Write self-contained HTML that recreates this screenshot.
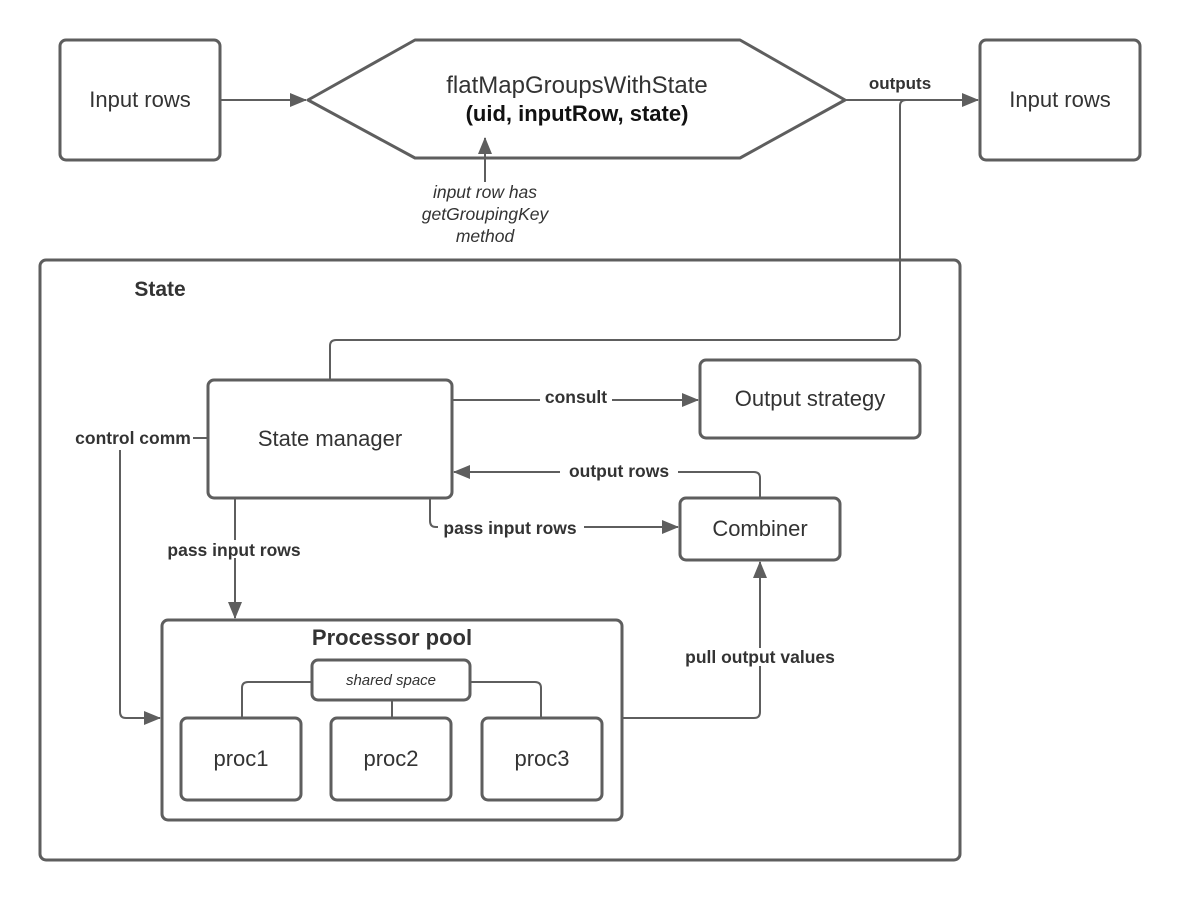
<!DOCTYPE html>
<html><head><style>body{margin:0;background:#fff}svg{display:block}</style></head><body>
<svg width="1180" height="900" viewBox="0 0 1180 900" xmlns="http://www.w3.org/2000/svg" font-family="Liberation Sans, sans-serif">
<defs>
<marker id="b" markerWidth="18" markerHeight="14" refX="16" refY="7" orient="auto" markerUnits="userSpaceOnUse"><path d="M0,0 L17,7 L0,14 z" fill="#5e5e5e"/></marker></defs>
<g fill="none" stroke="#5e5e5e" stroke-width="3" stroke-linejoin="round">
<rect x="60" y="40" width="160" height="120" rx="6"/>
<rect x="980" y="40" width="160" height="120" rx="6"/>
<path d="M308,100 L415,40 L740,40 L845,100 L740,158 L415,158 Z"/>
<rect x="40" y="260" width="920" height="600" rx="6"/>
<rect x="208" y="380" width="244" height="118" rx="6"/>
<rect x="700" y="360" width="220" height="78" rx="6"/>
<rect x="680" y="498" width="160" height="62" rx="6"/>
<rect x="162" y="620" width="460" height="200" rx="6"/>
<rect x="312" y="660" width="158" height="40" rx="6"/>
<rect x="181" y="718" width="120" height="82" rx="6"/>
<rect x="331" y="718" width="120" height="82" rx="6"/>
<rect x="482" y="718" width="120" height="82" rx="6"/>
</g>
<g fill="none" stroke="#5e5e5e" stroke-width="2">
<path d="M220,100 H306" marker-end="url(#b)"/>
<path d="M845,100 H978" marker-end="url(#b)"/>
<path d="M485,182 V138" marker-end="url(#b)"/>
<path d="M330,380 V346 Q330,340 336,340 H894 Q900,340 900,334 V106 Q900,100 906,100"/>
<path d="M452,400 H698" marker-end="url(#b)"/>
<path d="M760,498 V478 Q760,472 754,472 H454" marker-end="url(#b)"/>
<path d="M430,498 V521 Q430,527 436,527 H678" marker-end="url(#b)"/>
<path d="M235,498 V618" marker-end="url(#b)"/>
<path d="M208,438 H193"/>
<path d="M120,450 V712 Q120,718 126,718 H160" marker-end="url(#b)"/>
<path d="M622,718 H754 Q760,718 760,712 V562" marker-end="url(#b)"/>
<path d="M242,718 V688 Q242,682 248,682 H312"/>
<path d="M470,682 H535 Q541,682 541,688 V718"/>
<path d="M392,700 V718"/>
</g>
<g fill="#333" text-anchor="middle">
<text x="140" y="107" font-size="22">Input rows</text>
<text x="1060" y="107" font-size="22">Input rows</text>
<text x="577" y="93" font-size="24">flatMapGroupsWithState</text>
<text x="577" y="121" font-size="22" font-weight="bold" fill="#111">(uid, inputRow, state)</text>
<text x="900" y="89" font-size="17" font-weight="bold">outputs</text>
<g font-size="17.5" font-style="italic"><text x="485" y="198">input row has</text><text x="485" y="220">getGroupingKey</text><text x="485" y="242">method</text></g>
<text x="160" y="296" font-size="21" font-weight="bold">State</text>
<text x="330" y="446" font-size="22">State manager</text>
<text x="810" y="406" font-size="22">Output strategy</text>
<text x="760" y="536" font-size="22">Combiner</text>
<g font-size="17.5" font-weight="bold">
<rect x="540" y="387" width="72" height="18" fill="#fff"/>
<text x="576" y="403">consult</text>
<rect x="560" y="462" width="118" height="18" fill="#fff"/>
<text x="619" y="477">output rows</text>
<rect x="438" y="518" width="146" height="18" fill="#fff"/>
<text x="510" y="534">pass input rows</text>
<rect x="163" y="540" width="144" height="18" fill="#fff"/>
<text x="234" y="556">pass input rows</text>
<text x="133" y="444">control comm</text>
<rect x="680" y="648" width="160" height="18" fill="#fff"/>
<text x="760" y="663">pull output values</text>
</g>
<text x="392" y="645" font-size="22" font-weight="bold">Processor pool</text>
<text x="391" y="685" font-size="15" font-style="italic">shared space</text>
<text x="241" y="766" font-size="22">proc1</text>
<text x="391" y="766" font-size="22">proc2</text>
<text x="542" y="766" font-size="22">proc3</text>
</g>
</svg>
</body></html>
